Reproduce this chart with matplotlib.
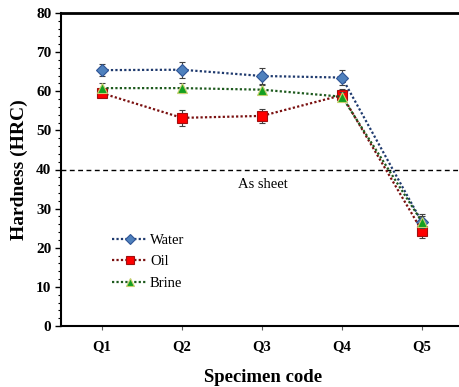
import matplotlib
matplotlib.use("Agg")
import matplotlib.pyplot as plt
from matplotlib.ticker import MultipleLocator

plt.rcParams['font.family'] = ['Liberation Serif', 'DejaVu Serif']

# data
codes = ['Q1', 'Q2', 'Q3', 'Q4', 'Q5']
water = [65.4, 65.5, 63.9, 63.5, 26.5]
water_err = [1.5, 2.0, 2.0, 2.0, 2.0]
oil = [59.5, 53.2, 53.7, 59.0, 24.3]
oil_err = [1.0, 2.0, 1.8, 1.5, 1.7]
brine = [60.8, 60.8, 60.4, 58.6, 26.6]
brine_err = [1.2, 1.2, 1.2, 1.2, 1.5]
sheet = 40

x = list(range(1, len(codes) + 1))

fig = plt.figure(figsize=(4.59, 3.87), dpi=100)
ax = fig.add_axes([61/459, 1 - 326/387, 1 - 61/459, (326 - 13)/387])

dots = (0, (1, 1))
ebar = dict(ecolor='#404040', elinewidth=0.8, capsize=2.5, capthick=0.8)
c1 = ax.errorbar(x, water, yerr=water_err, color='#1F3A6E', ls=dots, lw=1.6,
                 marker='D', ms=6.5, mfc='#4F81BD', mec='#2F5597', mew=0.8,
                 label='Water', zorder=3, **ebar)
c2 = ax.errorbar(x, oil, yerr=oil_err, color='#7A1010', ls=dots, lw=1.6,
                 marker='s', ms=7, mfc='#FF0000', mec='#A01010', mew=0.8,
                 label='Oil', zorder=4, **ebar)
c3 = ax.errorbar(x, brine, yerr=brine_err, color='#1E5A1E', ls=dots, lw=1.6,
                 marker='^', ms=7.5, mfc='#14A020', mec='#C8D070', mew=0.8,
                 label='Brine', zorder=5, **ebar)

ax.axhline(sheet, color='black', lw=1.0, ls=(0, (3.5, 2.5)), zorder=2)
ax.text(2.7, 36.2, 'As sheet', fontsize=10.5, va='center', ha='left')

ax.set_xlim(0.4875, 5.4625)
ax.set_ylim(0, 80)
ax.set_xticks(x)
ax.set_xticklabels(codes, fontsize=10.5, fontweight='bold')
ax.yaxis.set_major_locator(MultipleLocator(10))
ax.yaxis.set_minor_locator(MultipleLocator(2))
for lab in ax.get_yticklabels():
    lab.set_fontweight('bold')
    lab.set_fontsize(11)
ax.tick_params(axis='y', which='major', direction='out', length=4, width=1, pad=3)
ax.tick_params(axis='y', which='minor', direction='out', length=2.5, width=0.8)
ax.tick_params(axis='x', which='major', direction='out', length=3, width=0.8,
               color='#606060', pad=7)

ax.spines['right'].set_visible(False)
ax.spines['top'].set_linewidth(2.0)
ax.spines['left'].set_linewidth(1.5)
ax.spines['bottom'].set_linewidth(1.5)

ax.set_ylabel('Hardness (HRC)', fontsize=14, fontweight='bold', labelpad=6)
fig.text(263/459, 1 - 377/387, 'Specimen code', fontsize=13.5,
         fontweight='bold', ha='center', va='center')

ax.legend(handles=[c1[0], c2[0], c3[0]], labels=['Water', 'Oil', 'Brine'],
          loc='center left', bbox_to_anchor=(0.11, 0.205), frameon=False,
          fontsize=10.5, handlelength=2.4, handletextpad=0.2,
          labelspacing=0.55, borderpad=0, markerscale=0.8)

fig.savefig('out.png', dpi=100)
